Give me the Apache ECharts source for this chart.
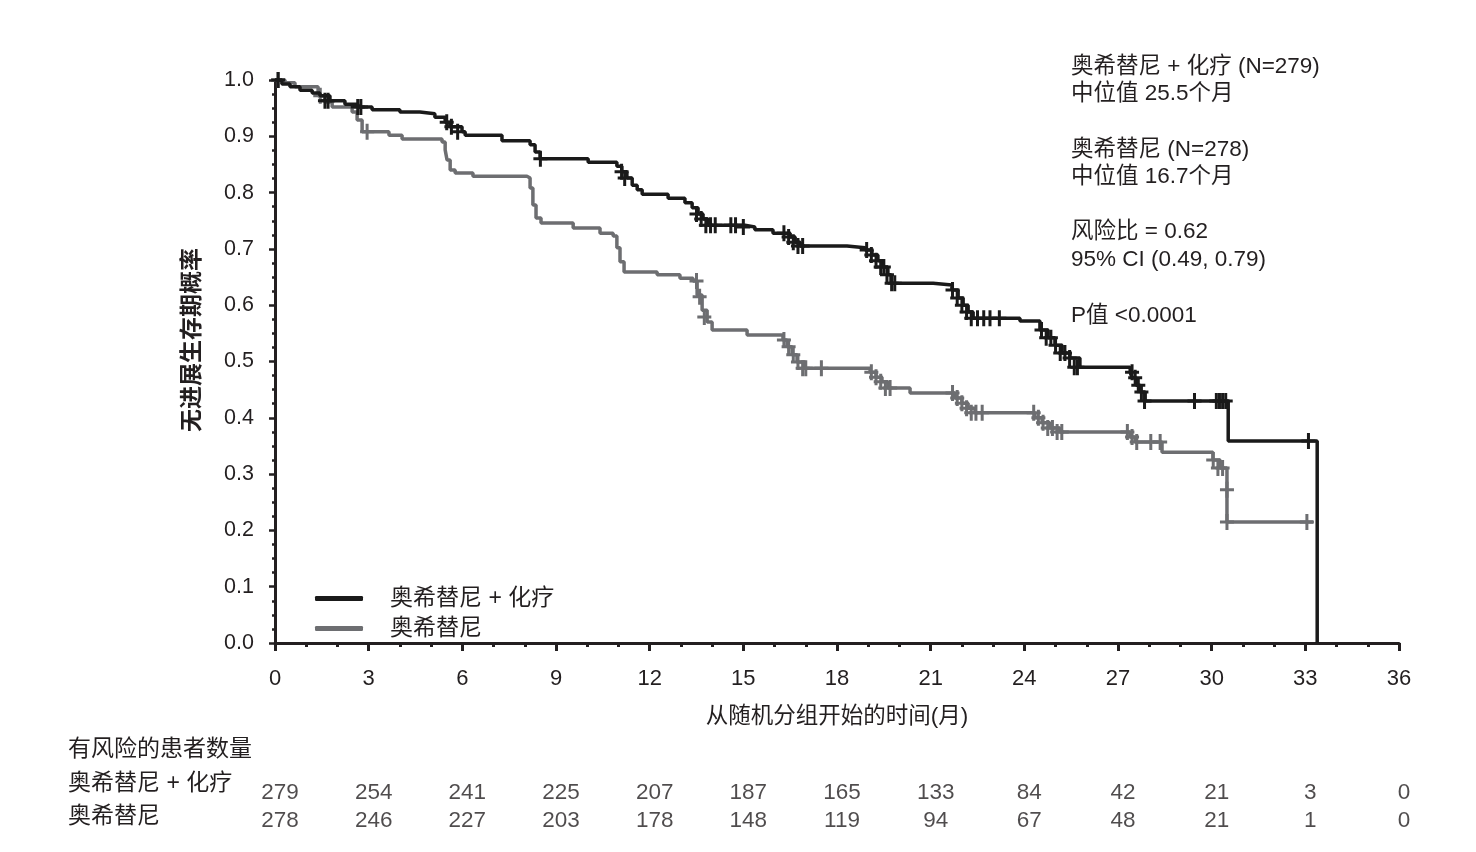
<!DOCTYPE html>
<html><head><meta charset="utf-8">
<script src="https://cdn.jsdelivr.net/npm/echarts@6/dist/echarts.min.js"></script>
<style>html,body{margin:0;padding:0;background:#fff}#c{width:1476px;height:852px}</style>
</head><body><div id="c"></div>
<script>
// ---- data ----
const seriesNames = ['奥希替尼 + 化疗', '奥希替尼'];
const xTicks = [0, 3, 6, 9, 12, 15, 18, 21, 24, 27, 30, 33, 36];
const comboSteps = [[0,1.0],[0.22,0.993],[0.48,0.988],[0.80,0.982],[1.19,0.977],[1.44,0.972],[1.76,0.963],[2.24,0.957],[2.66,0.952],[3.11,0.947],[4.0,0.943],[4.64,0.940],[5.12,0.934],[5.45,0.925],[5.6,0.917],[5.99,0.908],[6.09,0.902],[7.27,0.892],[8.17,0.885],[8.33,0.872],[8.49,0.860],[10.03,0.854],[10.95,0.847],[11.11,0.837],[11.27,0.826],[11.44,0.813],[11.6,0.805],[11.76,0.797],[12.59,0.790],[13.13,0.782],[13.36,0.773],[13.55,0.762],[13.71,0.753],[13.87,0.742],[15.05,0.739],[15.37,0.734],[15.95,0.728],[16.5,0.721],[16.66,0.712],[16.82,0.705],[18.32,0.702],[18.9,0.698],[19.12,0.689],[19.31,0.679],[19.47,0.668],[19.63,0.654],[19.73,0.639],[21.08,0.636],[21.68,0.627],[21.88,0.613],[22.04,0.600],[22.2,0.588],[22.36,0.577],[23.86,0.572],[24.5,0.556],[24.76,0.542],[24.98,0.529],[25.21,0.515],[25.46,0.506],[25.78,0.490],[27.39,0.481],[27.45,0.471],[27.58,0.458],[27.71,0.446],[27.87,0.430],[30.53,0.359],[33.38,0]];
const monoSteps = [[0,1.0],[0.32,0.995],[0.64,0.988],[1.38,0.972],[1.6,0.961],[1.83,0.952],[2.47,0.943],[2.63,0.929],[2.79,0.908],[3.65,0.902],[4.07,0.895],[5.35,0.890],[5.45,0.876],[5.51,0.858],[5.61,0.840],[5.77,0.835],[6.34,0.829],[8.07,0.826],[8.17,0.808],[8.26,0.778],[8.36,0.755],[8.52,0.746],[9.55,0.737],[10.41,0.728],[10.83,0.723],[10.95,0.702],[11.05,0.677],[11.18,0.659],[12.24,0.654],[12.97,0.648],[13.39,0.643],[13.52,0.618],[13.68,0.591],[13.84,0.570],[14.0,0.556],[15.12,0.547],[16.27,0.538],[16.4,0.526],[16.56,0.512],[16.72,0.499],[16.98,0.488],[19.06,0.481],[19.25,0.472],[19.44,0.464],[19.63,0.453],[20.34,0.444],[21.78,0.435],[22.0,0.426],[22.2,0.417],[22.42,0.409],[24.34,0.400],[24.57,0.391],[24.82,0.382],[25.14,0.375],[27.39,0.366],[27.55,0.357],[28.41,0.339],[30.04,0.325],[30.27,0.311],[30.49,0.215],[33.25,0.215]];
const comboCensor = [[0.1,1.0],[1.6,0.963],[1.7,0.963],[2.65,0.952],[2.75,0.952],[5.5,0.925],[5.65,0.917],[5.85,0.908],[8.5,0.86],[11.1,0.837],[11.2,0.826],[13.5,0.762],[13.65,0.753],[13.8,0.742],[13.95,0.742],[14.1,0.742],[14.6,0.742],[14.75,0.742],[15.0,0.739],[16.3,0.728],[16.45,0.721],[16.6,0.712],[16.75,0.705],[16.9,0.705],[18.95,0.698],[19.1,0.689],[19.25,0.679],[19.4,0.668],[19.5,0.668],[19.6,0.654],[19.75,0.639],[19.85,0.639],[21.7,0.627],[21.85,0.613],[22.0,0.6],[22.15,0.588],[22.3,0.577],[22.5,0.577],[22.7,0.577],[22.9,0.577],[23.2,0.577],[24.55,0.556],[24.7,0.542],[24.85,0.542],[25.0,0.529],[25.15,0.515],[25.3,0.515],[25.45,0.506],[25.6,0.49],[25.7,0.49],[27.45,0.481],[27.55,0.471],[27.65,0.458],[27.75,0.446],[27.85,0.43],[29.45,0.43],[30.15,0.43],[30.25,0.43],[30.35,0.43],[30.45,0.43],[33.1,0.359]];
const monoCensor = [[0.1,1.0],[1.45,0.972],[2.95,0.908],[13.5,0.643],[13.6,0.615],[13.75,0.579],[16.3,0.538],[16.45,0.526],[16.6,0.512],[16.75,0.499],[16.9,0.488],[17.0,0.488],[17.5,0.488],[19.1,0.481],[19.25,0.472],[19.4,0.464],[19.55,0.453],[19.7,0.453],[21.7,0.444],[21.85,0.435],[22.0,0.426],[22.15,0.417],[22.3,0.409],[22.45,0.409],[22.65,0.409],[24.3,0.409],[24.45,0.4],[24.6,0.391],[24.75,0.382],[24.9,0.382],[25.05,0.375],[25.2,0.375],[27.3,0.375],[27.45,0.366],[27.6,0.357],[28.05,0.357],[28.35,0.357],[30.05,0.325],[30.2,0.311],[30.35,0.311],[30.49,0.272],[30.49,0.215],[33.05,0.215]];
const riskTimes = [0, 3, 6, 9, 12, 15, 18, 21, 24, 27, 30, 33, 36];
const riskCombo = [279, 254, 241, 225, 207, 187, 165, 133, 84, 42, 21, 3, 0];
const riskMono = [278, 246, 227, 203, 178, 148, 119, 94, 67, 48, 21, 1, 0];
const annotations = ['奥希替尼 + 化疗 (N=279)', '中位值 25.5个月', '奥希替尼 (N=278)', '中位值 16.7个月', '风险比 = 0.62', '95% CI (0.49, 0.79)', 'P值 <0.0001'];
const riskTitle = '有风险的患者数量';

// ---- styles ----
const FONT = "'Liberation Sans', 'Noto Sans CJK SC', sans-serif";
const INK = '#231f20';
const C_COMBO = '#1a1a1a';
const C_MONO = '#6d6e71';
const censorSym = 'path://M5.5,0 H8.5 V16 H5.5 Z M0,6.5 H14 V9.5 H0 Z';

const chart = echarts.init(document.getElementById('c'));
const annY = [67, 94, 150, 177, 232, 260, 316];
const graphics = annotations.map((t, i) => ({
  type: 'text', x: 1071, y: annY[i],
  style: { text: t, font: '22.5px ' + FONT, fill: INK, verticalAlign: 'middle' }
}));
graphics.push({ type: 'text', x: 68, y: 750, style: { text: riskTitle, font: '23px ' + FONT, fill: INK, verticalAlign: 'middle' } });
graphics.push({ type: 'text', x: 68, y: 784, style: { text: seriesNames[0], font: '23px ' + FONT, fill: INK, verticalAlign: 'middle' } });
graphics.push({ type: 'text', x: 68, y: 817, style: { text: seriesNames[1], font: '23px ' + FONT, fill: INK, verticalAlign: 'middle' } });
graphics.push({ type: 'text', x: 193, y: 340, rotation: Math.PI / 2,
  style: { text: '无进展生存期概率', font: 'bold 23px ' + FONT, fill: INK, align: 'center', verticalAlign: 'middle' } });

const riskData = [];
riskTimes.forEach((t, i) => { riskData.push([t, 0, riskCombo[i]]); riskData.push([t, 1, riskMono[i]]); });

chart.setOption({
  animation: false,
  backgroundColor: '#fff',
  grid: [
    { left: 275, right: 77, top: 80, bottom: 209 },
    { left: 275, right: 77, top: 793, height: 28 }
  ],
  xAxis: [{
    type: 'value', min: 0, max: 36, interval: 3, offset: 10,
    name: '从随机分组开始的时间(月)', nameLocation: 'middle', nameGap: 53,
    nameTextStyle: { fontFamily: FONT, fontSize: 22.5, color: INK },
    axisLine: { lineStyle: { color: INK, width: 3 } },
    axisTick: { length: 8, lineStyle: { width: 3, color: INK } },
    minorTick: { show: true, splitNumber: 3, length: 4, lineStyle: { width: 3, color: INK } },
    axisLabel: { fontFamily: FONT, fontSize: 22, color: INK, margin: 15 },
    splitLine: { show: false }
  }, {
    gridIndex: 1, type: 'value', min: 0, max: 36, show: false
  }],
  yAxis: [{
    type: 'value', min: 0, max: 1, interval: 0.1, offset: 3,
    axisLine: { show: true, lineStyle: { color: INK, width: 3 } },
    axisTick: { show: true, length: 6, lineStyle: { width: 2.5, color: INK } },
    minorTick: { show: true, splitNumber: 4, length: 3, lineStyle: { width: 2.5, color: INK } },
    axisLabel: { fontFamily: FONT, fontSize: 21.5, color: INK, margin: 18, formatter: v => v.toFixed(1) },
    splitLine: { show: false }
  }, {
    gridIndex: 1, type: 'value', min: 0, max: 1, inverse: true, show: false
  }],
  legend: {
    data: seriesNames, orient: 'vertical', left: 310, top: 582, itemGap: 7,
    icon: 'roundRect', itemWidth: 48, itemHeight: 5,
    textStyle: { fontFamily: FONT, fontSize: 23, color: INK, padding: [0, 0, 0, 22] }
  },
  graphic: graphics,
  series: [
    { name: seriesNames[0], type: 'line', step: 'end', data: comboSteps, showSymbol: false, clip: false,
      lineStyle: { color: C_COMBO, width: 3.5 }, itemStyle: { color: C_COMBO }, z: 4 },
    { name: seriesNames[1], type: 'line', step: 'end', data: monoSteps, showSymbol: false, clip: false,
      lineStyle: { color: C_MONO, width: 3.5 }, itemStyle: { color: C_MONO }, z: 3 },
    { type: 'scatter', data: comboCensor, symbol: censorSym, symbolSize: [14, 16], itemStyle: { color: C_COMBO, opacity: 1 }, z: 4, silent: true },
    { type: 'scatter', data: monoCensor, symbol: censorSym, symbolSize: [14, 16], itemStyle: { color: C_MONO, opacity: 1 }, z: 3, silent: true },
    { type: 'scatter', xAxisIndex: 1, yAxisIndex: 1, data: riskData, symbolSize: 0, silent: true,
      label: { show: true, position: [0, 0], offset: [5, 0], align: 'center', verticalAlign: 'middle',
        formatter: p => String(p.value[2]), fontFamily: FONT, fontSize: 22.5, color: INK } }
  ]
});
</script></body></html>
